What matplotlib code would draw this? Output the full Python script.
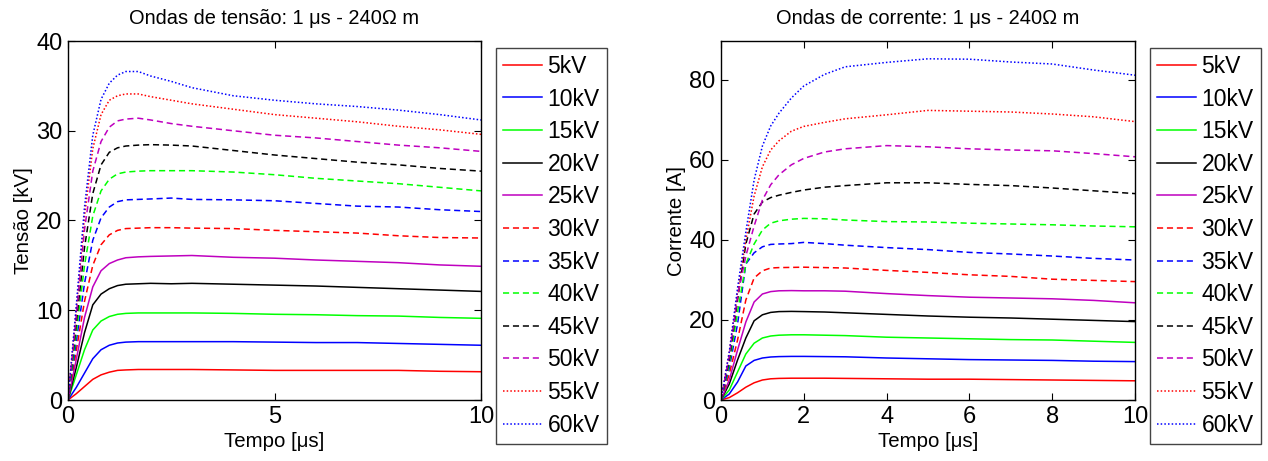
import numpy as np
import matplotlib
matplotlib.use("Agg")
import matplotlib.pyplot as plt

plt.rcParams['font.family'] = ['Liberation Sans', 'DejaVu Sans']

# tempo [us]
t = [0, 0.2, 0.4, 0.6, 0.8, 1.0, 1.2, 1.4, 1.7, 2.0, 2.5, 3, 4, 5, 6, 7, 8, 9, 10]

labels = ['5kV', '10kV', '15kV', '20kV', '25kV', '30kV', '35kV', '40kV',
          '45kV', '50kV', '55kV', '60kV']

# tensao [kV]
v05 = [0, 0.7, 1.5, 2.3, 2.8, 3.1, 3.3, 3.35, 3.4, 3.4, 3.4, 3.4, 3.35, 3.3, 3.3, 3.3, 3.3, 3.2, 3.15]
v10 = [0, 1.4, 3.0, 4.6, 5.6, 6.1, 6.35, 6.45, 6.5, 6.5, 6.5, 6.5, 6.5, 6.45, 6.4, 6.4, 6.3, 6.2, 6.1]
v15 = [0, 2.8, 5.6, 7.8, 8.8, 9.3, 9.55, 9.65, 9.7, 9.7, 9.7, 9.7, 9.65, 9.55, 9.5, 9.4, 9.35, 9.2, 9.1]
v20 = [0, 3.6, 7.5, 10.6, 11.8, 12.4, 12.75, 12.9, 12.95, 13.0, 12.95, 13.0, 12.9, 12.8, 12.7, 12.55, 12.4, 12.25, 12.1]
v25 = [0, 4.5, 9.2, 12.6, 14.4, 15.2, 15.6, 15.85, 15.95, 16.0, 16.05, 16.1, 15.9, 15.8, 15.6, 15.45, 15.3, 15.05, 14.9]
v30 = [0, 5.5, 11, 15, 17.3, 18.4, 18.9, 19.1, 19.15, 19.2, 19.2, 19.15, 19.1, 18.9, 18.75, 18.6, 18.3, 18.1, 18.05]
v35 = [0, 6.5, 13, 17.8, 20.3, 21.5, 22.1, 22.3, 22.35, 22.4, 22.5, 22.35, 22.3, 22.2, 21.9, 21.6, 21.5, 21.2, 21.0]
v40 = [0, 7.5, 15, 20.5, 23.3, 24.6, 25.2, 25.4, 25.5, 25.55, 25.55, 25.55, 25.4, 25.1, 24.7, 24.4, 24.1, 23.7, 23.3]
v45 = [0, 8.5, 17, 23, 26.2, 27.6, 28.1, 28.3, 28.4, 28.45, 28.4, 28.3, 27.8, 27.3, 26.9, 26.5, 26.2, 25.8, 25.5]
v50 = [0, 9.5, 19, 25.5, 28.8, 30.4, 31.1, 31.3, 31.4, 31.2, 30.8, 30.5, 30.0, 29.5, 29.2, 28.8, 28.4, 28.1, 27.7]
v55 = [0, 10, 20.5, 28, 31.8, 33.4, 33.9, 34.1, 34.1, 33.8, 33.4, 33.0, 32.4, 31.8, 31.4, 31.0, 30.5, 30.1, 29.6]
v60 = [0, 10.5, 21.5, 29.5, 33.5, 35.3, 36.2, 36.6, 36.6, 36.1, 35.5, 34.8, 33.9, 33.4, 33.0, 32.7, 32.3, 31.8, 31.2]

# corrente [A]
i05 = [0, 0.6, 1.8, 3.2, 4.3, 5.0, 5.3, 5.4, 5.45, 5.45, 5.45, 5.4, 5.3, 5.2, 5.2, 5.1, 5.0, 4.9, 4.8]
i10 = [0, 1.5, 4.5, 8.5, 9.9, 10.5, 10.75, 10.85, 10.9, 10.9, 10.85, 10.8, 10.5, 10.3, 10.1, 10.0, 9.9, 9.7, 9.6]
i15 = [0, 2.5, 7, 11.5, 14.2, 15.5, 16.0, 16.2, 16.3, 16.3, 16.2, 16.1, 15.7, 15.5, 15.3, 15.1, 15.0, 14.7, 14.4]
i20 = [0, 4, 10, 15.5, 19.8, 21.3, 21.9, 22.1, 22.15, 22.1, 22.0, 21.8, 21.4, 21.0, 20.7, 20.5, 20.2, 19.9, 19.6]
i25 = [0, 5, 12.5, 19.5, 24.5, 26.5, 27.1, 27.3, 27.35, 27.3, 27.3, 27.2, 26.6, 26.1, 25.7, 25.5, 25.3, 24.9, 24.3]
i30 = [0, 6.5, 15, 25, 30.5, 32.3, 33.0, 33.1, 33.15, 33.2, 33.1, 33.0, 32.4, 31.9, 31.3, 30.9, 30.2, 29.9, 29.6]
i35 = [0, 8, 19, 34, 36.8, 38.3, 38.9, 39.0, 39.1, 39.4, 39.1, 38.7, 38.1, 37.6, 36.9, 36.5, 36.0, 35.4, 35.0]
i40 = [0, 9, 22, 34, 39, 42.5, 44.2, 44.8, 45.2, 45.4, 45.3, 45.0, 44.6, 44.5, 44.2, 44.0, 43.8, 43.5, 43.3]
i45 = [0, 10, 25, 39, 46.5, 49.5, 50.6, 51.2, 51.9, 52.5, 53.2, 53.6, 54.3, 54.3, 53.9, 53.6, 53.0, 52.3, 51.6]
i50 = [0, 11, 26, 36, 43.5, 50, 53.8, 56.3, 58.8, 60.4, 62.0, 62.8, 63.6, 63.3, 62.8, 62.5, 62.3, 61.6, 60.8]
i55 = [0, 12, 27, 40, 51, 58.3, 62.5, 64.8, 67.2, 68.4, 69.4, 70.3, 71.3, 72.4, 72.2, 72.0, 71.5, 70.8, 69.6]
i60 = [0, 12, 28, 42, 55, 63.5, 68.5, 71.7, 75.5, 78.5, 81.4, 83.3, 84.4, 85.3, 85.2, 84.5, 84.0, 82.5, 81.2]

tensao = [v05, v10, v15, v20, v25, v30, v35, v40, v45, v50, v55, v60]
corrente = [i05, i10, i15, i20, i25, i30, i35, i40, i45, i50, i55, i60]

colors = ['r', 'b', (0, 1, 0), 'k', 'm']
styles = ['-'] * 5 + [(0, (4, 2.5))] * 5 + [(0, (1, 1.4))] * 2

fig = plt.figure(figsize=(12.68, 4.61), dpi=100)
ax1 = fig.add_axes([68 / 1268, 61 / 461, 413 / 1268, 359 / 461])
ax2 = fig.add_axes([721 / 1268, 61 / 461, 414 / 1268, 359 / 461])


def draw(ax, data, title, ylabel, ylim, xticks, yticks, leg_x):
    for k, y in enumerate(data):
        ax.plot(t, y, color=colors[k % 5], linestyle=styles[k], lw=1.1,
                label=labels[k])
    ax.set_xlim(0, 10)
    ax.set_ylim(*ylim)
    ax.set_xticks(xticks)
    ax.set_yticks(yticks)
    ax.tick_params(direction='in', top=True, right=True, length=5,
                   labelsize=17, pad=4)
    for s in ax.spines.values():
        s.set_linewidth(1.0)
    ax.set_title(title, fontsize=14.4, pad=12)
    ax.set_xlabel('Tempo [\u03bcs]', fontsize=14.7, labelpad=3)
    ax.set_ylabel(ylabel, fontsize=14.7, labelpad=2)
    leg = ax.legend(loc='upper left', bbox_to_anchor=(leg_x / 1268, 413 / 461),
                    bbox_transform=fig.transFigure, fontsize=16.5,
                    fancybox=False, framealpha=1, edgecolor='#444444',
                    handlelength=1.7, handletextpad=0.25, labelspacing=0.42,
                    borderpad=0.3, borderaxespad=0)
    leg.get_frame().set_linewidth(1.0)


draw(ax1, tensao, 'Ondas de tens\u00e3o: 1 \u03bcs - 240\u03a9 m', 'Tens\u00e3o [kV]',
     (0, 40), [0, 5, 10], [0, 10, 20, 30, 40], 496)
draw(ax2, corrente, 'Ondas de corrente: 1 \u03bcs - 240\u03a9 m', 'Corrente [A]',
     (0, 89.75), [0, 2, 4, 6, 8, 10], [0, 20, 40, 60, 80], 1150)

fig.savefig('out.png', dpi=100)
